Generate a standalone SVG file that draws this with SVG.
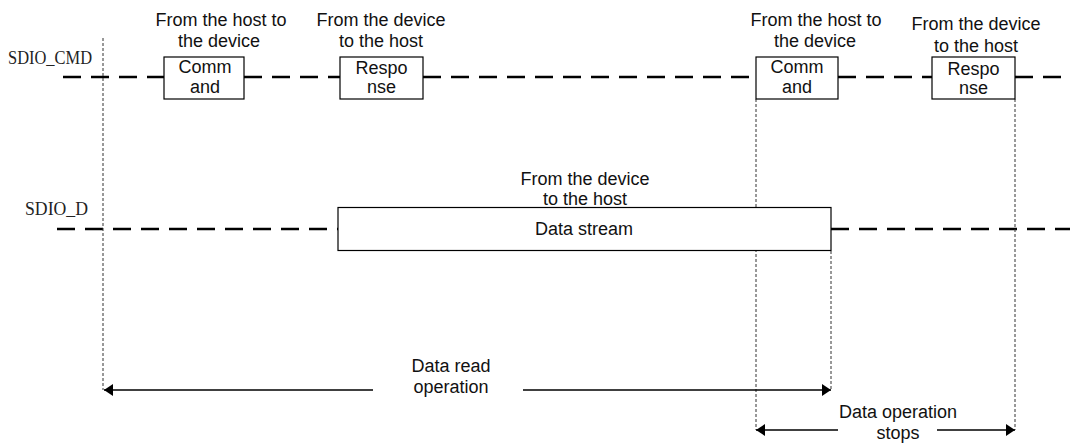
<svg xmlns="http://www.w3.org/2000/svg" width="1070" height="443" viewBox="0 0 1070 443">
<style>
.t{font-family:"Liberation Sans",Arial,sans-serif;font-size:18px;fill:#111;text-anchor:middle}
.sig{font-family:"Liberation Serif","Times New Roman",serif;font-size:19.5px;fill:#222}
.box{fill:#fff;stroke:#000;stroke-width:1.2}
.bus{stroke:#000;stroke-width:2.6;stroke-dasharray:18 10;fill:none}
.dot{stroke:#333;stroke-width:1;stroke-dasharray:3 2;fill:none}
.arr{stroke:#000;stroke-width:1.5;fill:none}
</style>
<defs>
<marker id="ah" markerUnits="userSpaceOnUse" markerWidth="10" markerHeight="13" refX="9" refY="6" orient="auto-start-reverse">
<path d="M0,0 L9,6 L0,12 z" fill="#000"/>
</marker>
</defs>
<g id="signal-labels">
<text class="sig" x="8" y="64" textLength="84" lengthAdjust="spacingAndGlyphs">SDIO_CMD</text>
<text class="sig" x="25" y="215" textLength="63" lengthAdjust="spacingAndGlyphs">SDIO_D</text>
</g>
<g id="connectors">
<path class="bus" d="M63,77 H164"/>
<path class="bus" d="M244,77 H340"/>
<path class="bus" d="M423,77 H756"/>
<path class="bus" d="M838,77 H932"/>
<path class="bus" d="M1015,77 H1064"/>
<path class="bus" d="M57,229 H338"/>
<path class="bus" d="M831,229 H1070"/>
<path class="dot" d="M103,38 V390"/>
<path class="dot" d="M756,99 V430"/>
<path class="dot" d="M831,251 V390"/>
<path class="dot" d="M1015,99 V430"/>
<path class="arr" d="M104,390 H373" marker-start="url(#ah)"/>
<path class="arr" d="M523,390 H831" marker-end="url(#ah)"/>
<path class="arr" d="M756,430 H838" marker-start="url(#ah)"/>
<path class="arr" d="M937,430 H1015" marker-end="url(#ah)"/>
</g>
<g id="cmd1">
<rect class="box" x="164" y="57" width="80" height="42"/>
<text class="t" x="205" y="73">Comm</text>
<text class="t" x="205" y="93">and</text>
<text class="t" x="221" y="26">From the host to</text>
<text class="t" x="219" y="47">the device</text>
</g>
<g id="resp1">
<rect class="box" x="340" y="57" width="83" height="42"/>
<text class="t" x="381.5" y="74">Respo</text>
<text class="t" x="381.5" y="93">nse</text>
<text class="t" x="381" y="26">From the device</text>
<text class="t" x="381" y="47">to the host</text>
</g>
<g id="cmd2">
<rect class="box" x="756" y="57" width="82" height="42"/>
<text class="t" x="797" y="73">Comm</text>
<text class="t" x="797" y="93">and</text>
<text class="t" x="816" y="26">From the host to</text>
<text class="t" x="815" y="47">the device</text>
</g>
<g id="resp2">
<rect class="box" x="932" y="57" width="83" height="42"/>
<text class="t" x="973.5" y="75">Respo</text>
<text class="t" x="973.5" y="94">nse</text>
<text class="t" x="976" y="30">From the device</text>
<text class="t" x="976" y="52">to the host</text>
</g>
<g id="datastream">
<rect class="box" x="338" y="207.5" width="493" height="43"/>
<text class="t" x="584" y="235">Data stream</text>
<text class="t" x="585" y="185">From the device</text>
<text class="t" x="585" y="205">to the host</text>
</g>
<g id="read-op">
<text class="t" x="451" y="372">Data read</text>
<text class="t" x="451" y="393">operation</text>
</g>
<g id="stop-op">
<text class="t" x="898" y="418">Data operation</text>
<text class="t" x="898" y="439">stops</text>
</g>
</svg>
